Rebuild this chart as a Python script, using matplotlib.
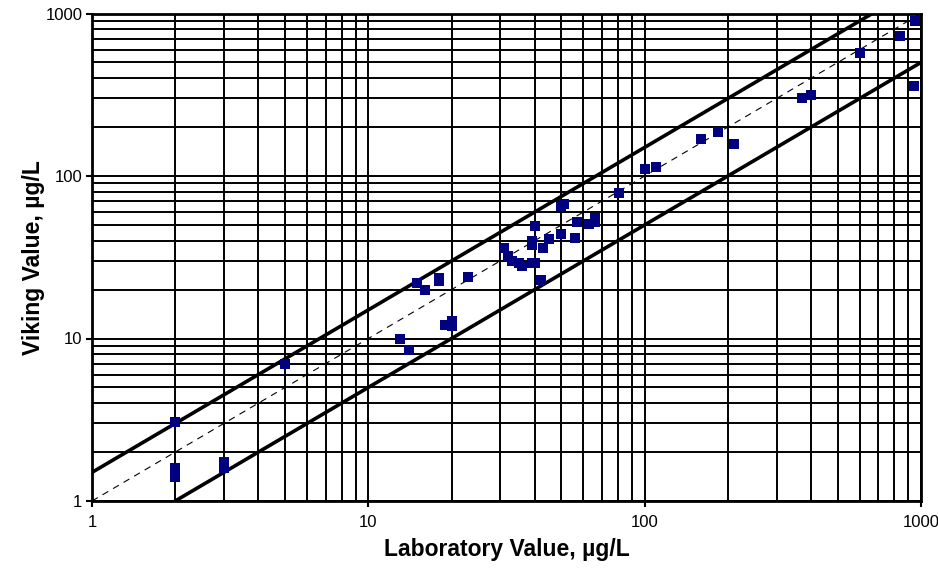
import matplotlib
matplotlib.use("Agg")
import matplotlib.pyplot as plt
import numpy as np
from matplotlib.ticker import LogLocator, FixedLocator, NullFormatter

plt.rcParams['font.family'] = ['Liberation Sans', 'DejaVu Sans']

# Data
lab_values = [2, 2, 2, 3, 3, 5, 13, 14, 15, 16, 18, 18, 19, 20, 20, 23,
              31, 32, 33, 35, 36, 39, 40, 39, 39, 40, 42, 43, 45, 50, 50, 51,
              56, 57, 63, 66, 66, 81, 100, 110, 160, 185, 210, 372, 400, 600,
              840, 955, 940]
viking_values = [3.05, 1.6, 1.4, 1.75, 1.6, 7.0, 9.9, 8.5, 22, 20, 23.5, 22.5, 12.1, 12.8, 11.9, 24,
                 36, 32, 30, 29, 28, 29, 29, 40, 37.5, 49, 23, 36, 41, 44, 65, 67.5,
                 41.4, 52.4, 50.7, 55, 52, 79, 111, 113, 168, 187, 157, 302, 314, 570,
                 727, 895, 358]

upper_factor = 1.5
lower_factor = 0.5
tick_values = [1, 10, 100, 1000]
tick_labels = ["1", "10", "100", "1000"]

fig = plt.figure(figsize=(9.38, 5.71), dpi=100)
ax = fig.add_axes([92/938, 1 - 501/571, (921-92)/938, (501-13.5)/571])
ax.set_xscale('log')
ax.set_yscale('log')
ax.set_xlim(1, 1000)
ax.set_ylim(1, 1000)

ax.xaxis.set_major_locator(FixedLocator(tick_values))
ax.yaxis.set_major_locator(FixedLocator(tick_values))
ax.set_xticklabels(tick_labels)
ax.set_yticklabels(tick_labels)
ax.xaxis.set_minor_locator(LogLocator(base=10, subs=np.arange(2, 10)))
ax.yaxis.set_minor_locator(LogLocator(base=10, subs=np.arange(2, 10)))
ax.xaxis.set_minor_formatter(NullFormatter())
ax.yaxis.set_minor_formatter(NullFormatter())

ax.grid(True, which='both', color='black', linewidth=1.4)
ax.set_axisbelow(True)
ax.tick_params(which='major', direction='out', length=4, width=1.5, labelsize=12)
ax.tick_params(axis='x', pad=6)
ax.tick_params(axis='y', pad=3)
ax.tick_params(which='minor', length=0)
for s in ax.spines.values():
    s.set_linewidth(2)
    s.set_color('black')

# Reference lines
xl = np.array([1, 1000 / upper_factor])
ax.plot(xl, upper_factor * xl, color='black', lw=2.6, zorder=3)
xl2 = np.array([1 / lower_factor, 1000])
ax.plot(xl2, lower_factor * xl2, color='black', lw=2.6, zorder=3)
xl3 = np.array([1, 1000])
ax.plot(xl3, xl3, color='black', lw=0.8, dashes=(6, 5), zorder=3)

ax.plot(lab_values, viking_values, linestyle='none', marker='s', markersize=7.2,
        color='#000080', markeredgewidth=0, zorder=4, clip_on=False)

ax.set_xlabel("Laboratory Value, µg/L", fontsize=16.5, fontweight='bold')
ax.set_ylabel("Viking Value, µg/L", fontsize=16.5, fontweight='bold')
ax.xaxis.set_label_coords(0.5, (501 - 538) / 487.5)
ax.yaxis.set_label_coords((45 - 92) / 829, 0.5)

fig.savefig("out.png", dpi=100)
